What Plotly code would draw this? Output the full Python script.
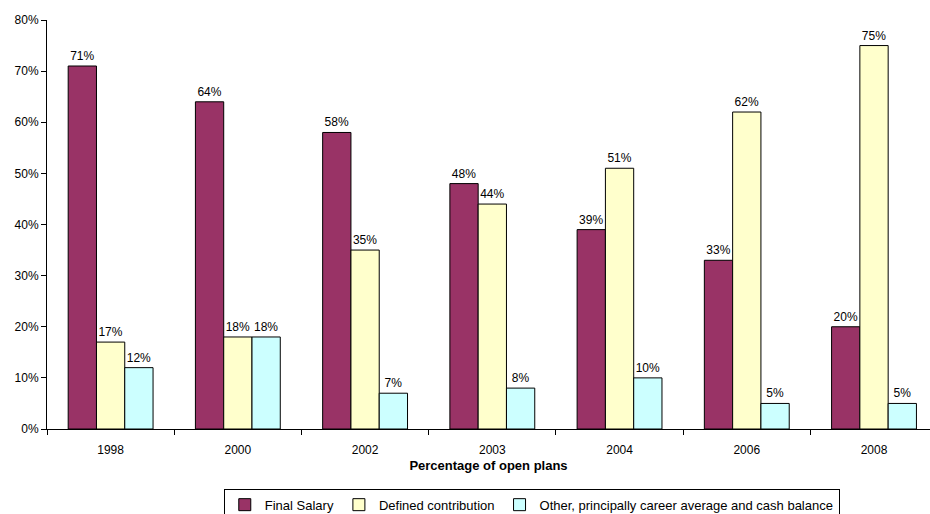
import plotly.graph_objects as go

# Share of open pension plans by scheme type
years = ["1998", "2000", "2002", "2003", "2004", "2006", "2008"]
final_salary = [71, 64, 58, 48, 39, 33, 20]
defined_contribution = [17, 18, 35, 44, 51, 62, 75]
other_career_avg = [12, 18, 7, 8, 10, 5, 5]

series = [
    ("Final Salary", final_salary, "#993366"),
    ("Defined contribution", defined_contribution, "#FFFFCC"),
    ("Other, principally career average and cash balance", other_career_avg, "#CCFFFF"),
]

FONT = "Liberation Sans, Arial, sans-serif"

fig = go.Figure()
for name, vals, color in series:
    fig.add_trace(go.Bar(
        name=name,
        x=years,
        y=vals,
        marker=dict(color=color, line=dict(color="#000000", width=1)),
        text=[f"{v}%" for v in vals],
        textposition="outside",
        textfont=dict(family=FONT, size=12, color="#000000"),
        cliponaxis=False,
    ))

fig.update_layout(
    width=930,
    height=514,
    barmode="group",
    bargap=0.333,
    bargroupgap=0,
    plot_bgcolor="#FFFFFF",
    paper_bgcolor="#FFFFFF",
    font=dict(family=FONT, size=12, color="#000000"),
    margin=dict(l=47, r=0, t=20, b=85, autoexpand=False),
    showlegend=True,
    legend=dict(
        orientation="h",
        x=0.549,
        xanchor="center",
        y=-0.146,
        yanchor="top",
        bordercolor="#000000",
        borderwidth=1,
        font=dict(family=FONT, size=13),
        itemwidth=30,
        tracegroupgap=0,
    ),
)

fig.update_xaxes(
    type="category",
    range=[-0.5, 6.44],
    automargin=False,
    showline=True,
    linecolor="#000000",
    linewidth=1,
    ticks="outside",
    tickson="boundaries",
    ticklen=5,
    tickcolor="#000000",
    showgrid=False,
    ticklabelstandoff=10,
    tickfont=dict(family=FONT, size=12),
    title=dict(text="<b>Percentage of open plans</b>", font=dict(family=FONT, size=13), standoff=4),
)

fig.update_yaxes(
    range=[0, 80],
    dtick=10,
    ticksuffix="%",
    automargin=False,
    showline=True,
    linecolor="#000000",
    linewidth=1,
    ticks="outside",
    ticklen=5,
    tickcolor="#000000",
    showgrid=False,
    zeroline=False,
    tickfont=dict(family=FONT, size=12),
)

fig.write_html("out.html")
